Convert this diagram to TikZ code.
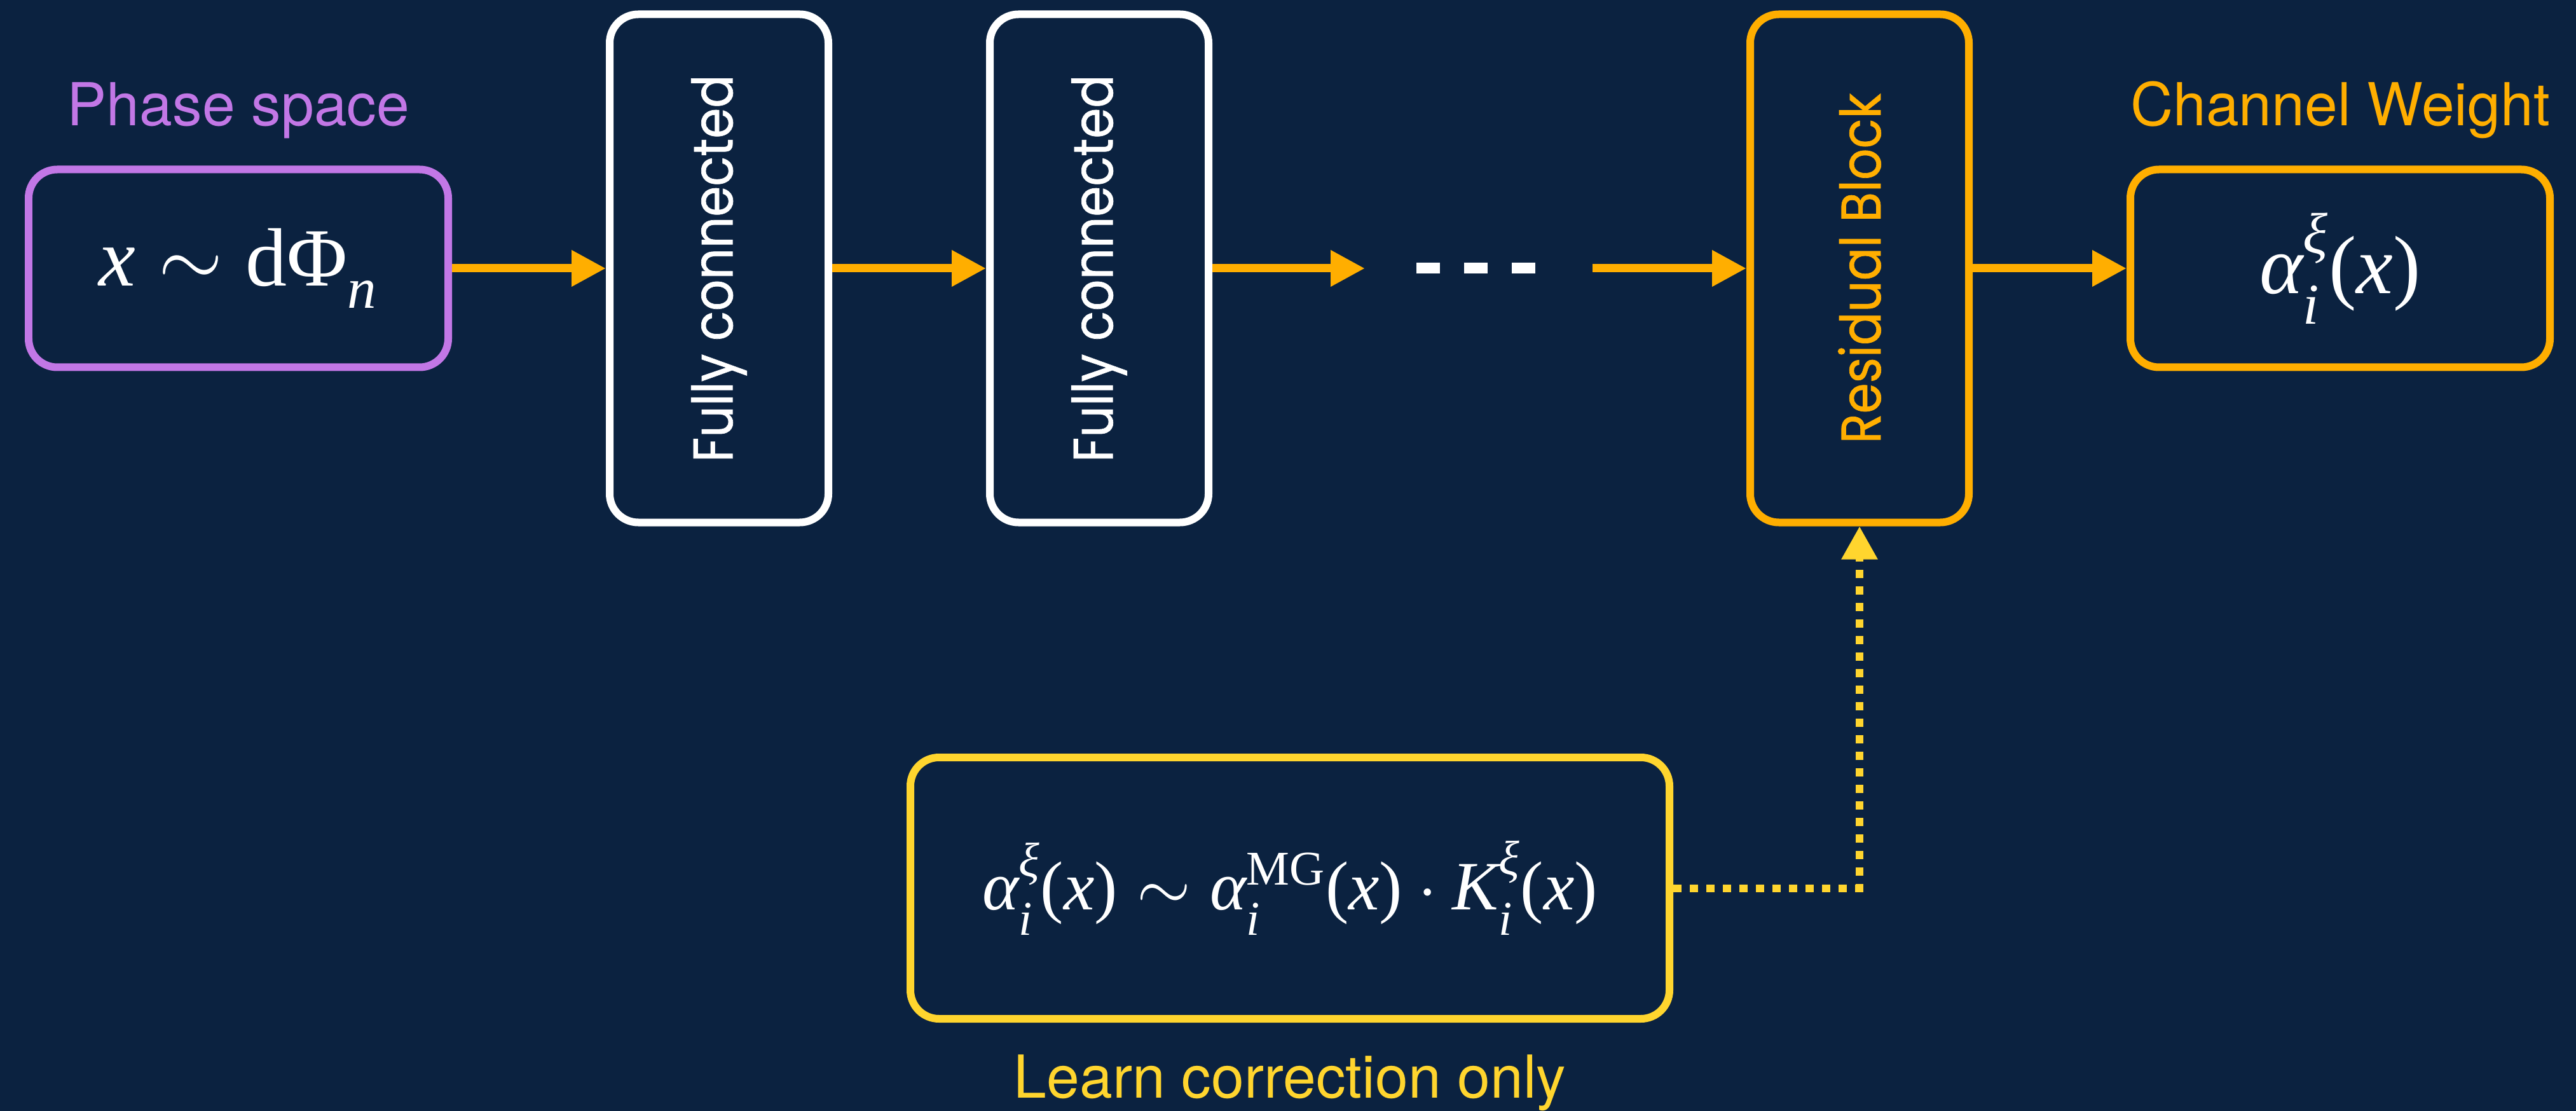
\RequirePackage{fix-cm}
\documentclass[tikz,border=0pt]{standalone}
\usepackage[no-math]{fontspec}
\setmainfont{TeX Gyre Heros}
\newfontfamily\blokfont{Poppins}[FakeStretch=0.88,FakeBold=0.8]
\newfontfamily\tmf{Liberation Serif}
\makeatletter
\newcommand\tv[1]{\mbox{\tmf\itshape #1}}
\newcommand\tr[1]{\mbox{\tmf #1}}
\newcommand\ts[1]{\mbox{\tmf\itshape\fontsize{\fpeval{0.7*\f@size}}{0}\selectfont #1}}
\newcommand\tsr[1]{\mbox{\tmf\fontsize{\fpeval{0.7*\f@size}}{0}\selectfont #1}}
\makeatother
% raised superscript and lowered subscript
\newcommand\tup[1]{\raisebox{0.12em}{\ts{#1}}}
\newcommand\tdn[1]{\raisebox{-0.12em}{\ts{#1}}}
\newcommand\ax{\tr{(}\tv{x}\tr{)}}
\usetikzlibrary{arrows.meta,positioning}
\definecolor{navy}{HTML}{0B2240}
\definecolor{lilla}{HTML}{C277E6}
\definecolor{oransje}{HTML}{FFAE00}
\definecolor{gul}{HTML}{FFD52E}
\tikzset{
    %Define style for the formula boxes
    kasse/.style={
           rectangle,
           rounded corners=0.45cm,
           line width=0.12cm,
           fill=navy,
           text=white,
           minimum width=6.6cm,
           minimum height=3.11cm,
           font=\fontsize{37}{40}\selectfont},
    %Define style for the tall layer boxes
    lag/.style={
           rectangle,
           rounded corners=0.45cm,
           line width=0.12cm,
           draw=white,
           text=white,
           minimum width=3.44cm,
           minimum height=7.99cm,
           font=\blokfont\fontsize{25}{27}\selectfont},
    % Define arrow style
    pil/.style={
           -{Triangle[length=0.54cm,width=0.54cm]},
           line width=0.13cm,
           oransje},
    % Define dotted arrow style
    prikkpil/.style={
           -{Triangle[length=0.52cm,width=0.54cm]},
           line width=0.12cm,
           gul,
           dash pattern=on 0.13cm off 0.13cm},
    % Define style for the labels
    etikett/.style={
           inner sep=0pt,
           font=\fontsize{26.5}{28}\selectfont}
}
\begin{document}
\begin{tikzpicture}[node distance=2.42cm, auto,]
 \fill[navy] (0,0) rectangle (40.52,-17.47);
 \useasboundingbox (0,0) rectangle (40.52,-17.47);
 \node[kasse,draw=lilla](phase) at (3.75,-4.22){$\tv{x}\sim\tr{dΦ}_{\tdn{n}}$};
 \node[lag,right=of phase](fc1){\rotatebox{90}{Fully connected}};
 \node[lag,right=of fc1](fc2){\rotatebox{90}{Fully connected}};
 \node[lag,draw=oransje,text=oransje,right=8.4cm of fc2](res){\rotatebox{90}{Residual Block}};
 \node[kasse,draw=oransje,right=of res](cw){$\tv{α}_{\tdn{i}}^{\tup{ξ}}\ax$};
 \node[kasse,draw=gul,minimum width=11.94cm,minimum height=4.11cm,
       font=\fontsize{31}{35}\selectfont](prior) at (20.29,-13.965)
       {$\tv{α}_{\tdn{i}}^{\tup{ξ}}\ax\sim\tv{α}_{\tdn{i}}^{\tsr{MG}}\ax\cdot\tv{K}_{\tdn{i}}^{\tup{ξ}}\ax$};
 \node[etikett,lilla,above=0.42cm of phase](psl){Phase space};
 \node[etikett,oransje,above=0.42cm of cw](cwl){Channel Weight};
 \node[etikett,gul,below=0.5cm of prior](lco){Learn correction only};
 % the gap in the chain
 \coordinate[right=2.4cm of fc2](gapin);
 \coordinate[left=2.42cm of res](gapout);
 \coordinate[right=0.81cm of gapin](dotsL);
 \coordinate[left=0.88cm of gapout](dotsR);
 \draw[white,line width=0.17cm,dash pattern=on 0.37cm off 0.38cm](dotsL)--(dotsR);
 \draw[pil](phase)--(fc1);
 \draw[pil](fc1)--(fc2);
 \draw[pil](fc2.east)--(gapin);
 \draw[pil](gapout)--(res.west);
 \draw[pil](res)--(cw);
 \draw[prikkpil](prior.east)-|(res.south);
\end{tikzpicture}
\end{document}
